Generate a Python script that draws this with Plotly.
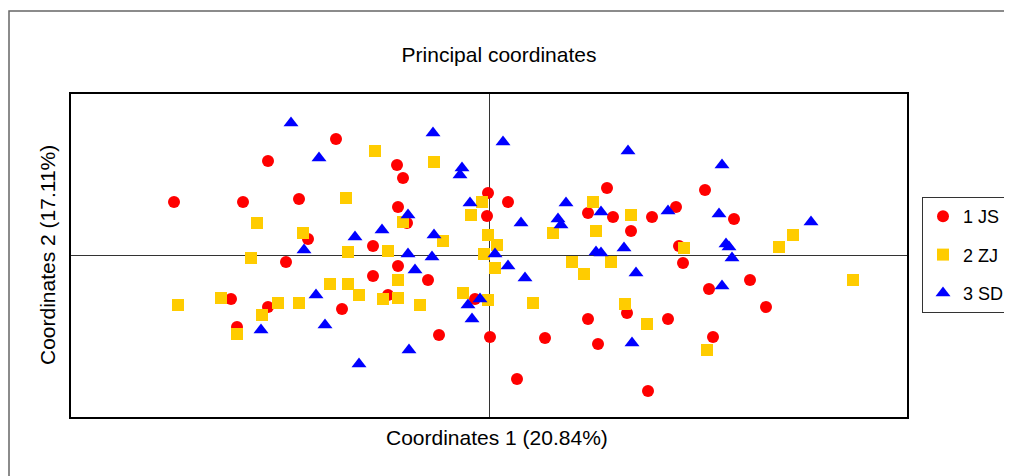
import plotly.graph_objects as go

# Principal coordinate scores (Coord 1, Coord 2)
js_x = [-3.15, -2.46, -2.21, -1.53, -1.90, -1.81, -2.03, -2.58, -2.21, -2.52,
        -1.47, -1.16, -1.01, -0.91, -0.92, -0.86, -0.82, -1.16, -0.91, -0.61,
        -0.50, -0.14, 0.01, -0.01, -0.02, 0.19, 1.18, 0.99, 1.24, 1.42,
        1.63, 1.87, 1.90, 2.16, 2.45, 1.94, 2.20, 2.61, 2.77, 2.24,
        0.99, 1.38, 1.79, 0.56, 1.09, 0.28, 1.59]
js_y = [0.53, 0.53, 0.94, 1.16, 0.56, 0.16, -0.07, -0.44, -0.52, -0.72,
        -0.54, -0.21, -0.40, 0.48, 0.90, 0.77, 0.32, 0.09, -0.11, -0.25,
        -0.80, -0.44, -0.82, 0.62, 0.39, 0.53, 0.67, 0.42, 0.38, 0.24,
        0.38, 0.48, 0.09, 0.65, 0.36, -0.08, -0.34, -0.25, -0.52, -0.82,
        -0.64, -0.58, -0.64, -0.83, -0.89, -1.24, -1.36]

zj_x = [-3.11, -2.68, -2.52, -2.38, -2.32, -2.27, -2.11, -1.90, -1.86, -1.59,
        -1.41, -1.43, -1.30, -1.14, -1.06, -0.91, -0.91, -0.69, -1.01, -1.41,
        -0.55, -0.86, -0.46, -0.26, -0.18, -0.07, -0.01, -0.05, 0.08, 0.06,
        -0.01, 0.44, 0.64, 1.04, 1.07, 1.42, 0.83, 1.22, 0.95, 1.36,
        1.58, 1.95, 2.18, 2.90, 3.04, 3.64]
zj_y = [-0.50, -0.43, -0.79, -0.03, 0.32, -0.60, -0.48, -0.48, 0.22, -0.29,
        -0.29, 0.57, -0.40, 1.04, -0.44, -0.43, -0.25, -0.50, 0.04, 0.03,
        0.93, 0.33, 0.14, -0.38, 0.40, 0.53, 0.20, 0.01, 0.10, -0.13,
        -0.45, -0.48, 0.22, 0.53, 0.24, 0.40, -0.07, -0.07, -0.19, -0.49,
        -0.69, 0.07, -0.95, 0.08, 0.20, -0.25]

sd_x = [-1.98, -1.70, -0.56, -0.27, -0.29, -0.19, -0.81, -1.34, -1.07, -0.55,
        -1.85, -0.81, -0.57, -0.74, -1.73, -1.64, -2.28, -1.30, -0.80, -0.21,
        -0.09, -0.17, 0.14, 1.39, 0.77, 1.12, 0.32, 0.69, 0.72, 1.79,
        1.35, 1.07, 1.12, 0.06, 0.19, 0.36, 1.47, 1.43, 2.33, 2.30,
        3.22, 2.37, 2.40, 2.43, 2.33]
sd_y = [1.32, 0.97, 1.22, 0.87, 0.80, 0.52, 0.40, 0.18, 0.25, 0.20,
        0.05, 0.01, -0.02, -0.15, -0.40, -0.70, -0.75, -1.09, -0.95, -0.50,
        -0.44, -0.64, 1.13, 1.04, 0.52, 0.43, 0.32, 0.36, 0.30, 0.44,
        0.07, 0.03, 0.02, 0.01, -0.11, -0.23, -0.18, -0.88, 0.90, 0.41,
        0.33, 0.11, 0.08, -0.03, -0.31]

names = ["1 JS", "2 ZJ", "3 SD"]
colors = ["#FF0000", "#FFCC00", "#0000FF"]
symbols = ["circle", "square", "triangle-up"]
xs = [js_x, zj_x, sd_x]
ys = [js_y, zj_y, sd_y]

W, H = 1004, 468
L, R, T, B = 63, 105, 86, 59
PW, PH = W - L - R, H - T - B

fig = go.Figure()
for i in range(3):
    fig.add_trace(go.Scatter(
        x=xs[i], y=ys[i], mode="markers", name=names[i],
        legendgroup=names[i],
        marker=dict(color=colors[i], symbol=symbols[i],
                    size=12 if i != 2 else 13, line=dict(width=0)),
    ))

axis_common = dict(showticklabels=False, ticks="", showgrid=False,
                   zeroline=True, zerolinecolor="#333333", zerolinewidth=1,
                   showline=True, linecolor="black", linewidth=2,
                   mirror=True, automargin=False)

fig.update_layout(
    width=W, height=H,
    margin=dict(l=L, r=R, t=T, b=B, autoexpand=False),
    paper_bgcolor="white", plot_bgcolor="white",
    font=dict(family="Liberation Sans, Arial, sans-serif", color="black"),
    title=dict(text="Principal coordinates", x=491 / W, xanchor="center",
               y=1 - 47 / H, yanchor="middle", font=dict(size=21)),
    xaxis=dict(range=[-4.18, 4.18], **axis_common),
    yaxis=dict(range=[-1.62, 1.61], **axis_common),
    legend=dict(x=(914 - L) / PW, xanchor="left", y=(H - B - 247) / PH,
                yanchor="middle",
                bgcolor="white", bordercolor="#333333", borderwidth=1,
                font=dict(size=18), tracegroupgap=12, itemwidth=30),
    showlegend=True,
)

fig.add_annotation(text="Coordinates 1 (20.84%)", xref="paper", yref="paper",
                   x=(489 - L) / PW, y=(H - B - 429) / PH,
                   xanchor="center", yanchor="middle", showarrow=False,
                   font=dict(size=21))
fig.add_annotation(text="Coordinates 2 (17.11%)", xref="paper", yref="paper",
                   x=(39 - L) / PW, y=(H - B - 247) / PH, textangle=-90,
                   xanchor="center", yanchor="middle", showarrow=False,
                   font=dict(size=21))

fig.add_shape(type="rect", xref="paper", yref="paper",
              x0=(1 - L) / PW, x1=1.3, y0=-0.5, y1=(H - B - 3) / PH,
              line=dict(color="#666666", width=1.5), fillcolor="rgba(0,0,0,0)",
              layer="below")

fig.write_html("out.html")
